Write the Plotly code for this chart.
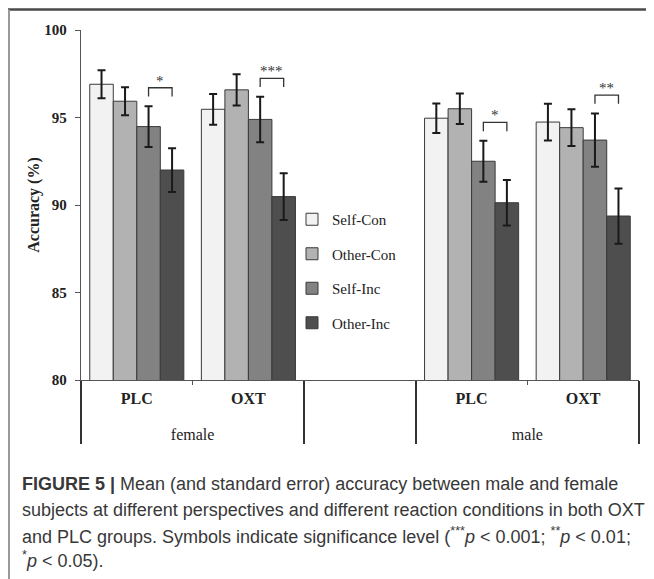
import plotly.graph_objects as go

# ---------------- data ----------------
genders = ["<br>female", "<br>female", " ", "<br>male", "<br>male"]
groups = ["<b>PLC</b>", "<b>OXT</b>", " ", "<b>PLC</b>", "<b>OXT</b>"]

conditions = ["Self-Con", "Other-Con", "Self-Inc", "Other-Inc"]
colors = ["#f2f2f2", "#b2b2b2", "#828282", "#4e4e4e"]

self_con = [96.90, 95.47, None, 94.96, 94.74]
other_con = [95.93, 96.58, None, 95.50, 94.42]
self_inc = [94.48, 94.89, None, 92.50, 93.71]
other_inc = [92.00, 90.48, None, 90.13, 89.37]

self_con_se = [0.80, 0.88, None, 0.84, 1.05]
other_con_se = [0.80, 0.89, None, 0.87, 1.05]
self_inc_se = [1.17, 1.30, None, 1.17, 1.52]
other_inc_se = [1.25, 1.33, None, 1.30, 1.58]

significance = ["*", "***", None, "*", "**"]

y_ticks = [80, 85, 90, 95, 100]

caption_lines = [
    "<b>FIGURE 5 |</b> Mean (and standard error) accuracy between male and female",
    "subjects at different perspectives and different reaction conditions in both OXT",
    "and PLC groups. Symbols indicate significance level (<sup>***</sup><i>p</i> &lt; 0.001; <sup>**</sup><i>p</i> &lt; 0.01;",
    "<sup>*</sup><i>p</i> &lt; 0.05).",
]

# ---------------- figure ----------------
# page body has an 8px margin: lay out in reference pixels, shifted by it
OFF = 8
W, H = 654 - OFF, 579 - OFF
ML, MR, MT, MB = 81 - OFF, 15, 30 - OFF, 199
PW, PH = W - ML - MR, H - MT - MB
BARGAP = 0.157

def px_x(px):
    return (px - 81) / PW

def px_y(py):
    return (380 - py) / PH

serif = "Liberation Serif"
sans = "Liberation Sans"

values = [self_con, other_con, self_inc, other_inc]
errors = [self_con_se, other_con_se, self_inc_se, other_inc_se]

fig = go.Figure()
for i, (name, col, vals, errs) in enumerate(zip(conditions, colors, values, errors)):
    fig.add_trace(go.Bar(
        name=name,
        x=[genders, groups],
        y=vals,
        marker=dict(color=col, line=dict(color="#3a3a3a", width=1)),
        error_y=dict(type="data", array=[e if e is not None else 0 for e in errs],
                     color="#1a1a1a", thickness=2, width=4),
        legendgroup=name,
    ))

# significance brackets on a hidden numeric overlay axis
w = (1 - BARGAP) / len(conditions)
for i, sig in enumerate(significance):
    if sig is None:
        continue
    xa = i - (1 - BARGAP) / 2 + 2.5 * w
    xb = i - (1 - BARGAP) / 2 + 3.5 * w
    yb = self_inc[i] + self_inc_se[i] + 0.55
    yt = yb + 0.5
    fig.add_trace(go.Scatter(
        x=[xa, xa, xb, xb], y=[yb, yt, yt, yb], mode="lines",
        line=dict(color="#333333", width=1.3), xaxis="x2", yaxis="y",
        showlegend=False, hoverinfo="skip",
    ))
    fig.add_annotation(x=(xa + xb) / 2, y=yt, xref="x2", yref="y", text=sig,
                       showarrow=False, yanchor="bottom", yshift=-3,
                       font=dict(family=serif, size=15, color="#333333"))

# caption
cap_y = [484, 510, 535, 559]
for line, cy in zip(caption_lines, cap_y):
    fig.add_annotation(x=px_x(20), y=px_y(cy), xref="paper", yref="paper",
                       xanchor="left", yanchor="middle", showarrow=False, align="left",
                       text=line, font=dict(family=sans, size=18, color="#383838"))

# frame lines
fig.add_shape(type="line", xref="paper", yref="paper",
              x0=px_x(8), x1=px_x(660), y0=px_y(9.5), y1=px_y(9.5),
              line=dict(color="#4a4a4a", width=2.5))
fig.add_shape(type="line", xref="paper", yref="paper",
              x0=px_x(9), x1=px_x(9), y0=px_y(9.5), y1=px_y(590),
              line=dict(color="#9a9a9a", width=2))

fig.update_layout(
    width=W, height=H,
    margin=dict(l=ML, r=MR, t=MT, b=MB),
    paper_bgcolor="white", plot_bgcolor="white",
    barmode="group", bargap=BARGAP, bargroupgap=0,
    font=dict(family=serif, color="#222222"),
    showlegend=True,
    legend=dict(x=px_x(292), y=px_y(203), xanchor="left", yanchor="top",
                font=dict(family=serif, size=15, color="#222222"),
                tracegroupgap=12, bgcolor="rgba(0,0,0,0)"),
    xaxis=dict(type="multicategory", showline=True, linecolor="#555555", linewidth=1.3,
               ticks="outside", tickson="boundaries", ticklen=4, tickcolor="#555555",
               showdividers=True, dividercolor="#333333", dividerwidth=1.5,
               ticklabelstandoff=4,
               tickfont=dict(family=serif, size=16, color="#222222"),
               showgrid=False, zeroline=False),
    xaxis2=dict(overlaying="x", range=[-0.5, 4.5], visible=False),
    yaxis=dict(range=[80, 100], tickvals=y_ticks, showline=True, linecolor="#555555",
               linewidth=1.3, ticks="outside", ticklen=5, tickcolor="#555555",
               tickfont=dict(family=serif, size=15, color="#222222", weight="bold"),
               ticklabelstandoff=5,
               title=dict(text="Accuracy (%)", standoff=0,
                          font=dict(family=serif, size=16, color="#222222", weight="bold")),
               showgrid=False, zeroline=False),
)

fig.write_html("out.html")
